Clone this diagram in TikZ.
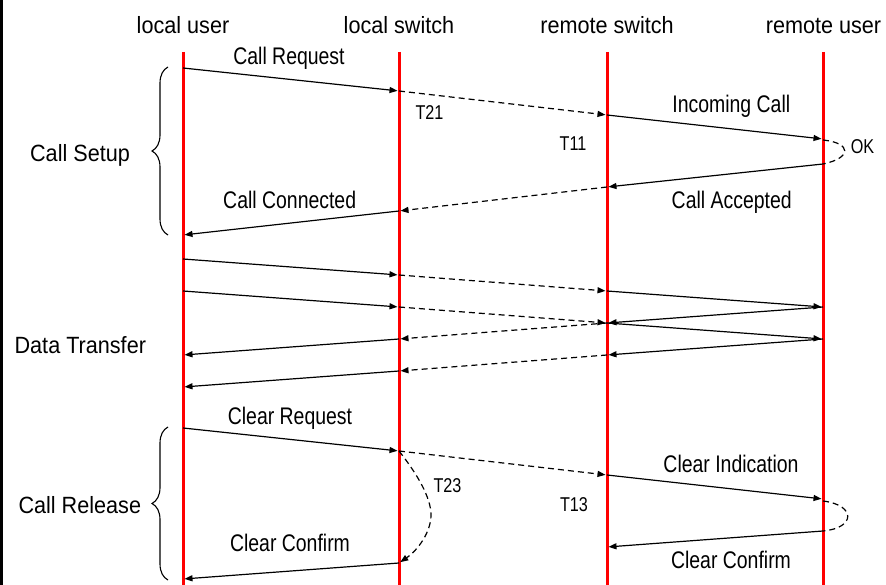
\documentclass[tikz,border=0pt]{standalone}
\usepackage{fontspec}
\setmainfont{Liberation Sans}
\newfontfamily\hdfont[FakeStretch=0.92]{Liberation Sans}
\newfontfamily\lbfont[FakeStretch=0.81]{Liberation Sans}
\usetikzlibrary{arrows.meta,decorations.pathreplacing}

\begin{document}
\begin{tikzpicture}[x=1pt,y=-1pt,
  lifeline/.style={red, line width=3pt},
  msg/.style={black, line width=1.2pt, -{Triangle[length=8pt,width=6pt]}, shorten >=1.5pt},
  relay/.style={msg, dash pattern=on 6pt off 4pt},
  loopback/.style={black, line width=1.2pt, dash pattern=on 6pt off 4pt},
  head/.style={font=\hdfont\fontsize{23.5}{26}\selectfont, anchor=base, inner sep=0pt},
  phase/.style={head},
  lbl/.style={font=\lbfont\fontsize{24}{28}\selectfont, anchor=base, inner sep=0pt},
  tmr/.style={font=\lbfont\fontsize{20}{24}\selectfont, anchor=base, inner sep=0pt},
  bracket/.style={decorate, decoration={brace, amplitude=16pt}, line width=1.1pt}
]
\useasboundingbox (0,0) rectangle (886,585);
\draw[line width=2.5pt] (1.25,0) -- (1.25,585);

% lifelines: A local user, B local switch, C remote switch, D remote user
\foreach \n/\x in {A/183,B/399,C/607,D/823}{
  \coordinate (\n top) at (\x,52);
  \coordinate (\n bot) at (\x,585);
  \foreach \y in {68,91,115,139,140,164,187,211,235,259,275,291,307,323,339,355,371,387,428,451,475,499,501,531,547,563,579}
    \coordinate (\n\y) at (\x,\y);
}
\foreach \n in {A,B,C,D} \draw[lifeline] (\n top) -- (\n bot);

% headings
\node[head] (hA) at (183,33.3) {local user};
\node[head] (hB) at (399,33.3) {local switch};
\node[head] (hC) at (607,33.3) {remote switch};
\node[head] (hD) at (823.5,33.3) {remote user};

% call setup
\draw[msg] (A68) -- (B91);
\draw[relay] (B91) -- (C115);
\draw[msg] (C115) -- (D139);
\draw[loopback] (D140) .. controls (852,143) and (852,158) .. (D164);
\draw[msg] (D164) -- (C187);
\draw[relay] (C187) -- (B211);
\draw[msg] (B211) -- (A235);

\node[lbl] (l1) at (289,65) {Call Request};
\node[tmr] (t21) at (429.5,119.3) {T21};
\node[lbl] (l2) at (731.3,112.3) {Incoming Call};
\node[tmr] (ok) at (862.5,154) {OK};
\node[tmr] (t11) at (573,151) {T11};
\node[lbl] (l3) at (731.7,208.3) {Call Accepted};
\node[lbl] (l4) at (289.7,208.3) {Call Connected};

% data transfer
\draw[msg] (A259) -- (B275);
\draw[relay] (B275) -- (C291);
\draw[msg] (C291) -- (D307);
\draw[msg] (A291) -- (B307);
\draw[relay] (B307) -- (C323);
\draw[msg] (C323) -- (D339);
\draw[msg] (D307) -- (C323);
\draw[relay] (C323) -- (B339);
\draw[msg] (B339) -- (A355);
\draw[msg] (D339) -- (C355);
\draw[relay] (C355) -- (B371);
\draw[msg] (B371) -- (A387);

% call release
\draw[msg] (A428) -- (B451);
\draw[relay] (B451) -- (C475);
\draw[msg] (C475) -- (D499);
\draw[loopback] (D501) .. controls (856,505) and (856,528) .. (D531);
\draw[msg] (D531) -- (C547);
\draw[relay] (B451) .. controls (418,475) and (431,498) .. (431,515)
                   .. controls (431,532) and (418,550) .. (B563);
\draw[msg] (B563) -- (A579);

\node[lbl] (l5) at (290,424) {Clear Request};
\node[lbl] (l6) at (731,472.5) {Clear Indication};
\node[tmr] (t23) at (447.5,492.3) {T23};
\node[tmr] (t13) at (574,511.7) {T13};
\node[lbl] (l7) at (731,568) {Clear Confirm};
\node[lbl] (l8) at (290,551.7) {Clear Confirm};

% phases
\coordinate (s1) at (168,235); \coordinate (s2) at (168,67);
\draw[bracket] (s1) -- (s2);
\coordinate (r1) at (168,580); \coordinate (r2) at (168,427);
\draw[bracket] (r1) -- (r2);
\node[phase] (p1) at (80,161.7) {Call Setup};
\node[phase] (p2) at (80.3,353.3) {Data Transfer};
\node[phase] (p3) at (79.8,513.3) {Call Release};
\end{tikzpicture}
\end{document}
